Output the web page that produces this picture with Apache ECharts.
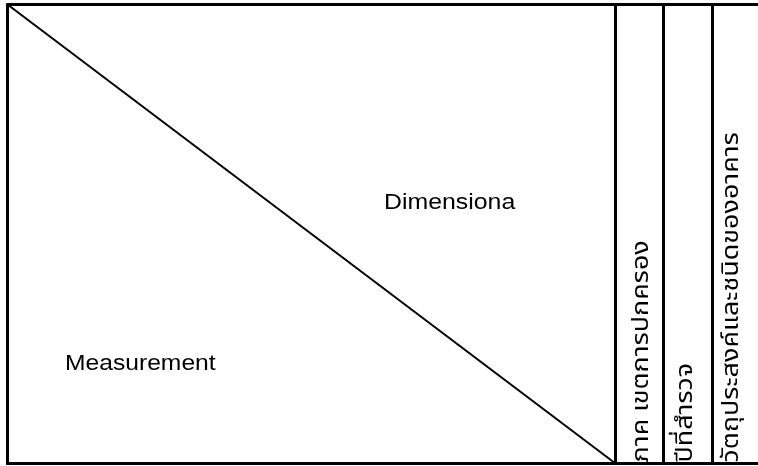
<!DOCTYPE html>
<html><head><meta charset="utf-8">
<script src="https://cdn.jsdelivr.net/npm/echarts@6/dist/echarts.min.js"></script>
<style>html,body{margin:0;padding:0;background:#fff;}#c{width:758px;height:466px;}</style>
</head><body><div id="c"></div>
<script>
// Header labels (table header diagram)
const cornerLabels = ['Dimensiona', 'Measurement'];
const columnLabels = ['ภาค เขตการปกครอง', 'ปีที่สำรวจ', 'วัตถุประสงค์และชนิดของอาคาร'];

// layout (axis units = px inside grid)
const colEdges = [608, 656, 705];   // x positions of column separators
const xMax = 750, yMax = 459;

const axisLine = {show: true, lineStyle: {color: '#000', width: 3}};
const hid = {axisTick: {show: false}, axisLabel: {show: false}, splitLine: {show: false}};
const chart = echarts.init(document.getElementById('c'), null, {renderer: 'canvas'});
chart.setOption({
  backgroundColor: '#fff',
  animation: false,
  grid: {left: 7.5, top: 4.5, width: xMax, height: yMax, show: false},
  xAxis: [
    Object.assign({type: 'value', min: 0, max: xMax, position: 'bottom', axisLine: axisLine}, hid),
    Object.assign({type: 'value', min: 0, max: xMax, position: 'top', axisLine: axisLine}, hid)
  ],
  yAxis: Object.assign({type: 'value', min: 0, max: yMax, position: 'left', axisLine: axisLine}, hid),
  series: [{
    type: 'line',
    data: [[0, yMax], [colEdges[0], 0]],
    symbol: 'none',
    lineStyle: {color: '#000', width: 2},
    markLine: {
      symbol: 'none', silent: true, label: {show: false},
      lineStyle: {color: '#000', width: 3, type: 'solid'},
      data: colEdges.map(v => ({xAxis: v}))
    }
  }]
});

const P = (x, y) => chart.convertToPixel({gridIndex: 0}, [x, y]);
const latinFont = '22px "Liberation Sans", Arial, sans-serif';
const thaiFont = '23px Tahoma, "Noto Sans Thai", "DejaVu Sans", sans-serif';
const dimPos = P(376.5, 261), meaPos = P(57.5, 99.5);
const elems = [
  {type: 'text', x: dimPos[0], y: dimPos[1], scaleX: 1.13, style: {text: cornerLabels[0], font: latinFont, fill: '#000', align: 'left', verticalAlign: 'middle'}},
  {type: 'text', x: meaPos[0], y: meaPos[1], scaleX: 1.12, style: {text: cornerLabels[1], font: latinFont, fill: '#000', align: 'left', verticalAlign: 'middle'}}
];
const colTextX = [636, 680, 726];
columnLabels.forEach((t, i) => {
  const p = P(colTextX[i], 1);
  elems.push({type: 'text', x: p[0], y: p[1], rotation: Math.PI / 2, scaleX: 1.17,
    style: {text: t, font: thaiFont, fill: '#000', align: 'left', verticalAlign: 'middle'}});
});
chart.setOption({graphic: {elements: elems}});
</script></body></html>
